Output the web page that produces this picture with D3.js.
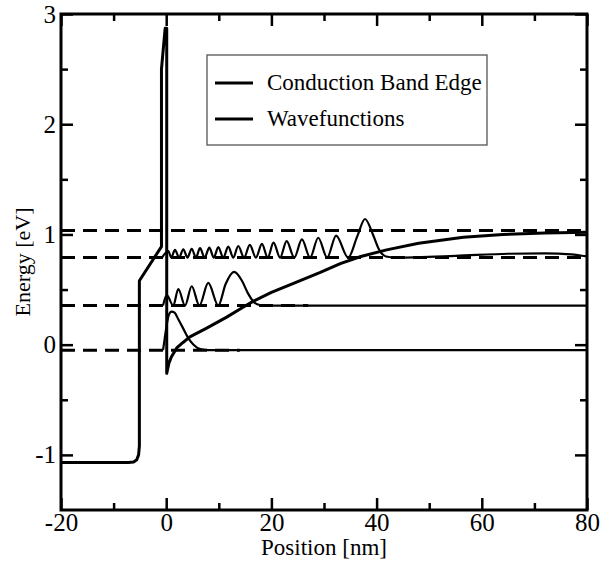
<!DOCTYPE html>
<html>
<head>
<meta charset="utf-8">
<script src="https://cdn.jsdelivr.net/npm/d3@7"></script>
<style>body { margin: 0; background: #fff; }</style>
</head>
<body>
<svg id="chart" width="600" height="562"></svg>
<script>
// conduction band edge [position nm, energy eV]
const bandEdge = [
  [-20, -1.07], [-7.2, -1.07], [-6.2, -1.065], [-5.6, -1.045], [-5.25, -1.0], [-5.1, -0.92],
  [-5.1, 0.58], [-0.9, 0.89], [-0.9, 2.5], [-0.2, 2.87], [0.1, 2.87], [0.1, -0.26],
  [0.5, -0.17], [1, -0.11], [2, -0.03], [3.2, 0.02], [4.5, 0.07], [7.7, 0.15], [11.5, 0.25],
  [14.6, 0.34], [16.6, 0.395], [20, 0.475], [24.2, 0.557], [29.3, 0.655], [33.1, 0.735],
  [37, 0.8], [41.9, 0.86], [48, 0.92], [56.5, 0.975], [64, 1.0], [72, 1.013], [80, 1.02]
];

// wavefunctions |psi|^2 drawn on their eigenenergies
const psi1 = [
  [-0.6, -0.05], [-0.3, 0.05], [0.1, 0.18], [0.5, 0.27], [1.0, 0.30], [1.6, 0.29],
  [2.3, 0.23], [3.2, 0.15], [4.2, 0.06], [5.2, 0.0], [6.5, -0.04], [8, -0.05], [80, -0.05]
];
const psi5 = [
  [-0.6, 0.355], [0.1, 0.45], [1.35, 0.355], [2.3, 0.505], [3.57, 0.355], [4.85, 0.53],
  [6.3, 0.355], [8.0, 0.56], [9.9, 0.355], [11.3, 0.55], [12.9, 0.66], [14.4, 0.58],
  [15.5, 0.47], [16.6, 0.39], [17.8, 0.36], [19.5, 0.355], [80, 0.355]
];
const psi15 = [
  [-0.8, 0.79], [0.4, 0.85], [0.95, 0.79], [1.67, 0.86], [2.45, 0.79], [3.25, 0.865],
  [4.05, 0.79], [4.85, 0.87], [5.65, 0.79], [6.43, 0.875], [7.3, 0.79], [8.2, 0.88],
  [9.05, 0.79], [9.9, 0.885], [10.85, 0.79], [11.8, 0.89], [12.75, 0.79], [13.7, 0.895],
  [14.8, 0.79], [15.9, 0.905], [17.05, 0.79], [18.2, 0.915], [19.3, 0.79], [20.4, 0.925],
  [21.65, 0.79], [22.9, 0.94], [24.35, 0.79], [25.8, 0.955], [27.35, 0.79], [28.9, 0.97],
  [30.6, 0.79], [32.3, 0.99], [34.6, 0.79], [36.3, 0.98], [37.8, 1.14], [39.3, 1.0],
  [40.5, 0.86], [41.8, 0.80], [43.5, 0.79], [55, 0.805], [65, 0.825], [72, 0.828],
  [77, 0.82], [80, 0.80]
];

// energy levels (dashed) [energy, from, to]
const levels = [[1.035, -20, 80], [0.79, -20, 80], [0.355, -20, 27], [-0.05, -20, 14]];

const legendItems = ["Conduction Band Edge", "Wavefunctions"];

const xMajor = [-20, 0, 20, 40, 60, 80], xMinor = [-10, 10, 30, 50, 70];
const yMajor = [-1, 0, 1, 2, 3], yMinor = [-0.5, 0.5, 1.5, 2.5];

const FONT = "Liberation Serif";

const margin = { top: 14, left: 61, right: 13, bottom: 52 };
const W = 600 - margin.left - margin.right, H = 562 - margin.top - margin.bottom;

const svg = d3.select("#chart");

svg.append("text").attr("x", margin.left + W / 2).attr("y", 555)
  .attr("text-anchor", "middle").attr("font-family", FONT).attr("font-size", 23).text("Position [nm]");
svg.append("text").attr("transform", `translate(30,${margin.top + H / 2}) rotate(-90)`)
  .attr("text-anchor", "middle").attr("font-family", FONT).attr("font-size", 22).text("Energy [eV]");

const g = svg.append("g").attr("transform", `translate(${margin.left},${margin.top})`);

const x = d3.scaleLinear().domain([-20, 80]).range([0, W]);
const y = d3.scaleLinear().domain([-1.5, 3]).range([H, 0]);

g.selectAll(".lvl").data(levels).enter().append("line")
  .attr("x1", d => x(d[1])).attr("x2", d => x(d[2]))
  .attr("y1", d => y(d[0])).attr("y2", d => y(d[0]))
  .attr("stroke", "#000").attr("stroke-width", 3).attr("stroke-dasharray", "14,8");

const lineMono = d3.line().x(d => x(d[0])).y(d => y(d[1])).curve(d3.curveMonotoneX);
const lineLin = d3.line().x(d => x(d[0])).y(d => y(d[1]));

[psi1, psi5, psi15].forEach(p => {
  g.append("path").datum(p).attr("d", lineMono)
    .attr("fill", "none").attr("stroke", "#000").attr("stroke-width", 2.2);
});

g.append("path").datum(bandEdge).attr("d", lineLin)
  .attr("fill", "none").attr("stroke", "#000").attr("stroke-width", 3).attr("stroke-linejoin", "round");

function styleAxis(sel) {
  sel.attr("font-family", FONT).attr("font-size", 25);
  sel.select(".domain").remove();
  sel.selectAll("line").attr("stroke", "#000").attr("stroke-width", 2.5);
}
const fmt = d => String(d);
g.append("g").attr("transform", `translate(0,${H})`)
  .call(d3.axisBottom(x).tickValues(xMajor).tickSize(-12).tickPadding(3).tickFormat(fmt)).call(styleAxis);
g.append("g").attr("transform", `translate(0,${H})`)
  .call(d3.axisBottom(x).tickValues(xMinor).tickSize(-7).tickFormat("")).call(styleAxis);
g.append("g")
  .call(d3.axisTop(x).tickValues(xMajor).tickSize(-12).tickFormat("")).call(styleAxis);
g.append("g")
  .call(d3.axisTop(x).tickValues(xMinor).tickSize(-7).tickFormat("")).call(styleAxis);
g.append("g")
  .call(d3.axisLeft(y).tickValues(yMajor).tickSize(-12).tickPadding(5).tickFormat(fmt)).call(styleAxis);
g.append("g")
  .call(d3.axisLeft(y).tickValues(yMinor).tickSize(-7).tickFormat("")).call(styleAxis);
g.append("g").attr("transform", `translate(${W},0)`)
  .call(d3.axisRight(y).tickValues(yMajor).tickSize(-12).tickFormat("")).call(styleAxis);
g.append("g").attr("transform", `translate(${W},0)`)
  .call(d3.axisRight(y).tickValues(yMinor).tickSize(-7).tickFormat("")).call(styleAxis);

g.append("rect").attr("width", W).attr("height", H)
  .attr("fill", "none").attr("stroke", "#000").attr("stroke-width", 3);

const leg = svg.append("g");
leg.append("rect").attr("x", 207).attr("y", 55).attr("width", 280).attr("height", 90)
  .attr("fill", "#fff").attr("stroke", "#555").attr("stroke-width", 1.3);
legendItems.forEach((name, i) => {
  const ly = 83 + i * 36;
  leg.append("line").attr("x1", 215).attr("x2", 253).attr("y1", ly).attr("y2", ly)
    .attr("stroke", "#000").attr("stroke-width", 3);
  leg.append("text").attr("x", 267).attr("y", ly + 7)
    .attr("font-family", FONT).attr("font-size", 23).text(name);
});
</script>
</body>
</html>
